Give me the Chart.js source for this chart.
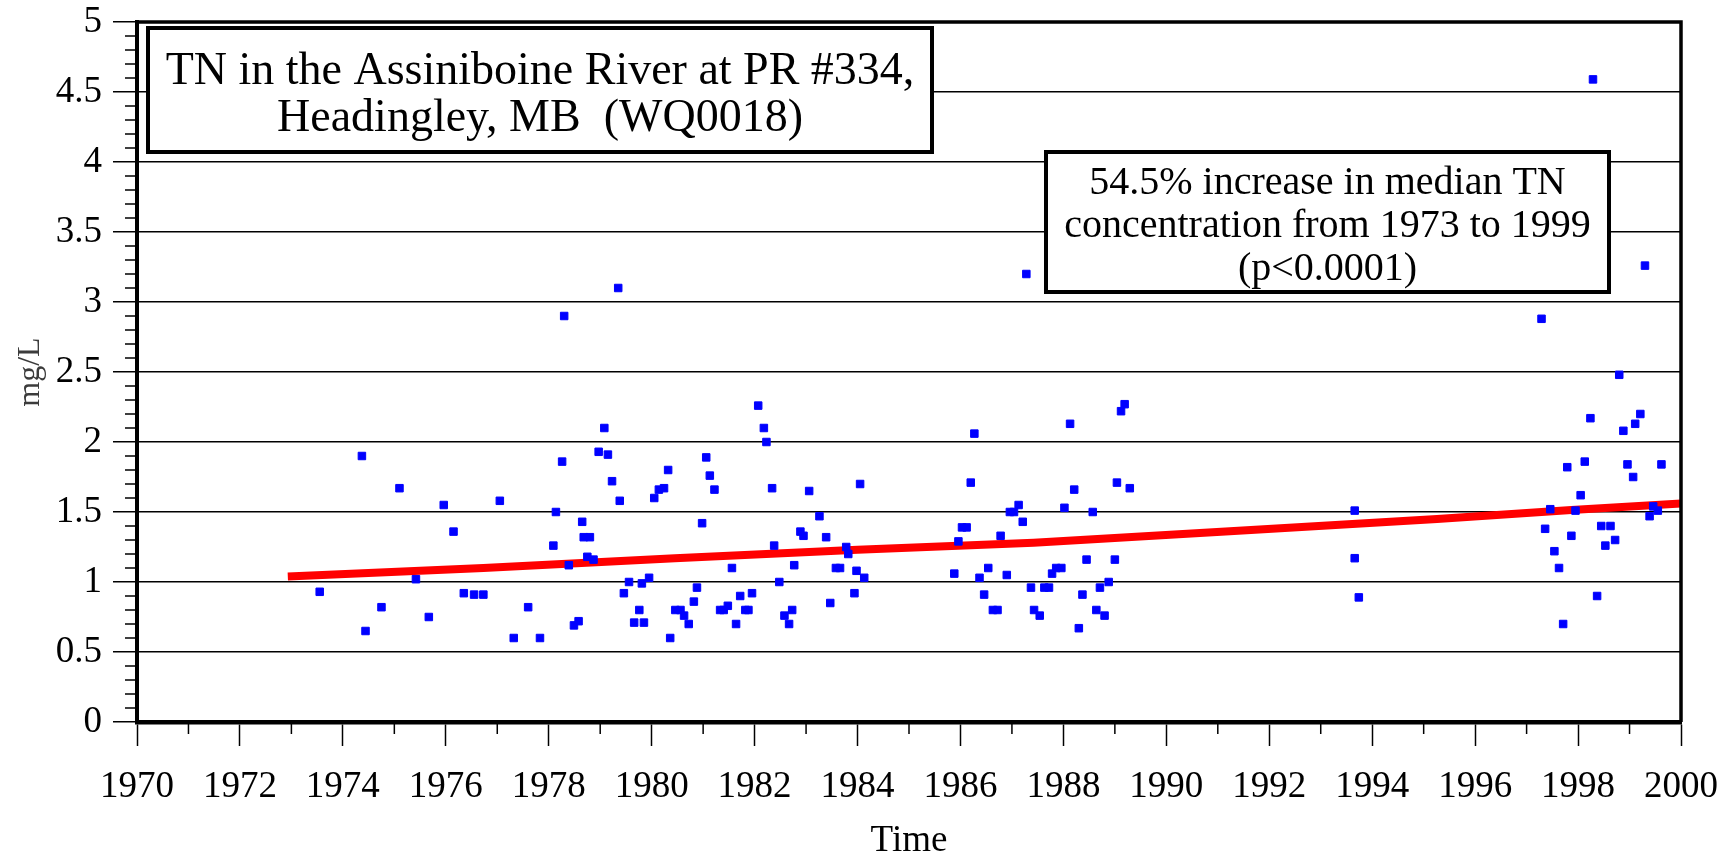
<!DOCTYPE html>
<html>
<head>
<meta charset="utf-8">
<script src="https://cdn.jsdelivr.net/npm/chart.js@4.4.1/dist/chart.umd.min.js"></script>
<style>
  html, body { margin: 0; padding: 0; background: #fff; }
  #wrap { width: 1727px; height: 853px; }
</style>
</head>
<body>
<div id="wrap"><canvas id="c" width="1727" height="853"></canvas></div>
<script>
// ---- data ----
const sampleYears = [
  1973.55, 1974.37, 1974.44, 1974.75, 1975.10, 1975.42, 1975.67, 1975.96, 1976.15, 1976.35,
  1976.55, 1976.73, 1977.05, 1977.32, 1977.60, 1977.83, 1978.09, 1978.14, 1978.26, 1978.30,
  1978.39, 1978.49, 1978.58, 1978.65, 1978.68, 1978.75, 1978.80, 1978.87, 1978.97, 1979.08,
  1979.15, 1979.23, 1979.35, 1979.38, 1979.46, 1979.56, 1979.66, 1979.76, 1979.81, 1979.85,
  1979.95, 1980.05, 1980.14, 1980.24, 1980.32, 1980.36, 1980.46, 1980.56, 1980.63, 1980.72,
  1980.82, 1980.88, 1980.98, 1981.06, 1981.13, 1981.22, 1981.33, 1981.40, 1981.48, 1981.56,
  1981.64, 1981.72, 1981.82, 1981.88, 1981.95, 1982.07, 1982.18, 1982.23, 1982.34, 1982.38,
  1982.48, 1982.58, 1982.67, 1982.73, 1982.77, 1982.89, 1982.95, 1983.06, 1983.26, 1983.39,
  1983.47, 1983.58, 1983.66, 1983.78, 1983.82, 1983.94, 1983.98, 1984.05, 1984.13,
  1985.88, 1985.96, 1986.03, 1986.12, 1986.20, 1986.27, 1986.37, 1986.46, 1986.54, 1986.63,
  1986.72, 1986.78, 1986.90, 1986.96, 1987.04, 1987.13, 1987.21, 1987.28, 1987.37, 1987.43,
  1987.54, 1987.63, 1987.72, 1987.78, 1987.86, 1987.96, 1988.02, 1988.13, 1988.21, 1988.30,
  1988.37, 1988.45, 1988.57, 1988.64, 1988.71, 1988.80, 1988.88, 1989.00, 1989.04, 1989.12,
  1989.19, 1989.29,
  1993.66, 1993.66, 1993.74,
  1997.29, 1997.36, 1997.46, 1997.54, 1997.63, 1997.71, 1997.79, 1997.87, 1997.95, 1998.05,
  1998.13, 1998.24, 1998.29, 1998.37, 1998.45, 1998.53, 1998.63, 1998.72, 1998.80, 1998.88,
  1998.96, 1999.07, 1999.11, 1999.21, 1999.30, 1999.39, 1999.46, 1999.55, 1999.62
];
const tnValues = [
  0.93, 1.90, 0.65, 0.82, 1.67, 1.02, 0.75, 1.55, 1.36, 0.92,
  0.91, 0.91, 1.58, 0.60, 0.82, 0.60, 1.26, 1.50, 1.86, 2.90,
  1.12, 0.69, 0.72, 1.43, 1.32, 1.18, 1.32, 1.16, 1.93, 2.10,
  1.91, 1.72, 3.10, 1.58, 0.92, 1.00, 0.71, 0.80, 0.99, 0.71,
  1.03, 1.60, 1.66, 1.67, 1.80, 0.60, 0.80, 0.80, 0.76, 0.70,
  0.86, 0.96, 1.42, 1.89, 1.76, 1.66, 0.80, 0.80, 0.83, 1.10,
  0.70, 0.90, 0.80, 0.80, 0.92, 2.26, 2.10, 2.00, 1.67, 1.26,
  1.00, 0.76, 0.70, 0.80, 1.12, 1.36, 1.33, 1.65, 1.47, 1.32,
  0.85, 1.10, 1.10, 1.25, 1.20, 0.92, 1.08, 1.70, 1.03,
  1.06, 1.29, 1.39, 1.39, 1.71, 2.06, 1.03, 0.91, 1.10, 0.80,
  0.80, 1.33, 1.05, 1.50, 1.50, 1.55, 1.43, 3.20, 0.96, 0.80,
  0.76, 0.96, 0.96, 1.06, 1.10, 1.10, 1.53, 2.13, 1.66, 0.67,
  0.91, 1.16, 1.50, 0.80, 0.96, 0.76, 1.00, 1.16, 1.71, 2.22,
  2.27, 1.67,
  1.51, 1.17, 0.89,
  2.88, 1.38, 1.52, 1.22, 1.10, 0.70, 1.82, 1.33, 1.51, 1.62,
  1.86, 2.17, 4.59, 0.90, 1.40, 1.26, 1.40, 1.30, 2.48, 2.08,
  1.84, 1.75, 2.13, 2.20, 3.26, 1.47, 1.54, 1.51, 1.84
];
const trendYears  = [1972.93, 1976.73, 1980.45, 1984.00, 1987.42, 1991.15, 1995.26, 1997.87, 2000.00];
const trendValues = [1.04, 1.10, 1.17, 1.23, 1.28, 1.36, 1.45, 1.515, 1.56];

const xTickLabels = ['1970','1972','1974','1976','1978','1980','1982','1984','1986','1988','1990','1992','1994','1996','1998','2000'];
const yTickLabels = ['0','0.5','1','1.5','2','2.5','3','3.5','4','4.5','5'];
const xTitle = 'Time';
const yTitle = 'mg/L';
const titleLines = ['TN in the Assiniboine River at PR #334,', 'Headingley, MB  (WQ0018)'];
const noteLines = ['54.5% increase in median TN', 'concentration from 1973 to 1999', '(p<0.0001)'];

// ---- rendering ----
const SERIF = '"Liberation Serif", "Times New Roman", Times, serif';

function drawTextBox(ctx, l, t, r, b, lines, fontPx, baselines) {
  ctx.save();
  ctx.fillStyle = '#fff';
  ctx.fillRect(l, t, r - l, b - t);
  ctx.lineWidth = 4;
  ctx.strokeStyle = '#000';
  ctx.strokeRect(l, t, r - l, b - t);
  ctx.fillStyle = '#000';
  ctx.font = fontPx + 'px ' + SERIF;
  ctx.textAlign = 'center';
  ctx.textBaseline = 'alphabetic';
  const cx = (l + r) / 2;
  lines.forEach((s, i) => ctx.fillText(s, cx, baselines[i]));
  ctx.restore();
}

const decor = {
  id: 'decor',
  beforeDatasetsDraw(chart) {
    const ctx = chart.ctx;
    drawTextBox(ctx, 148, 28, 932, 152, titleLines, 46, [84, 131]);
    drawTextBox(ctx, 1046, 152, 1609, 292, noteLines, 40, [194, 237, 280]);
  },
  afterDraw(chart) {
    const {ctx, chartArea: a, scales: {x, y}} = chart;
    ctx.save();
    ctx.strokeStyle = '#000';
    ctx.lineWidth = 1.5;
    ctx.beginPath();
    for (let k = 1; k < 50; k++) {
      if (k % 5 === 0) continue;
      const py = y.getPixelForValue(k / 10);
      ctx.moveTo(a.left - 12, py);
      ctx.lineTo(a.left, py);
    }
    for (let yr = 1971; yr < 2000; yr += 2) {
      const px = x.getPixelForValue(yr);
      ctx.moveTo(px, a.bottom);
      ctx.lineTo(px, a.bottom + 12);
    }
    ctx.stroke();
    ctx.lineWidth = 3.5;
    ctx.beginPath();
    ctx.moveTo(a.left, a.top);
    ctx.lineTo(a.right, a.top);
    ctx.lineTo(a.right, a.bottom);
    ctx.stroke();
    ctx.restore();
  }
};

new Chart(document.getElementById('c'), {
  type: 'scatter',
  data: {
    datasets: [
      {
        label: 'TN',
        data: sampleYears.map((yr, i) => ({x: yr, y: tnValues[i]})),
        pointStyle: 'rect',
        pointRadius: 5.3,
        backgroundColor: '#0000ff',
        borderColor: '#0000ff',
        borderWidth: 1
      },
      {
        label: 'Trend',
        data: trendYears.map((yr, i) => ({x: yr, y: trendValues[i]})),
        showLine: true,
        borderColor: '#ff0000',
        backgroundColor: '#ff0000',
        borderWidth: 8,
        pointRadius: 0,
        tension: 0
      }
    ]
  },
  options: {
    responsive: false,
    devicePixelRatio: 1,
    animation: false,
    layout: { padding: { top: 22, right: 46, bottom: 0, left: 0 } },
    plugins: { legend: { display: false }, tooltip: { enabled: false } },
    scales: {
      x: {
        type: 'linear', position: 'bottom', min: 1970, max: 2000,
        ticks: {
          stepSize: 2, autoSkip: false, maxRotation: 0, minRotation: 0, padding: 19,
          color: '#000', font: { family: SERIF, size: 37 },
          callback: (v, i) => xTickLabels[i]
        },
        grid: { drawOnChartArea: false, drawTicks: true, tickLength: 24, tickColor: '#000', tickWidth: 1.5 },
        border: { display: true, color: '#000', width: 4.5 },
        title: { display: true, text: xTitle, color: '#000', font: { family: SERIF, size: 37, lineHeight: 0.64 }, padding: 0 },
        afterFit: s => { s.height = 131; s.paddingLeft = 0; s.paddingRight = 0; }
      },
      y: {
        type: 'linear', min: 0, max: 5,
        ticks: {
          stepSize: 0.5, padding: 11, color: '#000', font: { family: SERIF, size: 37 },
          callback: (v, i) => yTickLabels[i]
        },
        grid: { color: '#000', lineWidth: 1.5, drawTicks: true, tickLength: 24, tickColor: '#000', tickWidth: 1.5 },
        border: { display: true, color: '#000', width: 4 },
        title: { display: true, text: yTitle, color: '#3c3c3c', font: { family: SERIF, size: 32 }, padding: { top: 11, bottom: 0 } },
        afterFit: s => { s.width = 137; s.paddingTop = 0; s.paddingBottom = 0; }
      }
    }
  },
  plugins: [decor]
});
</script>
</body>
</html>
